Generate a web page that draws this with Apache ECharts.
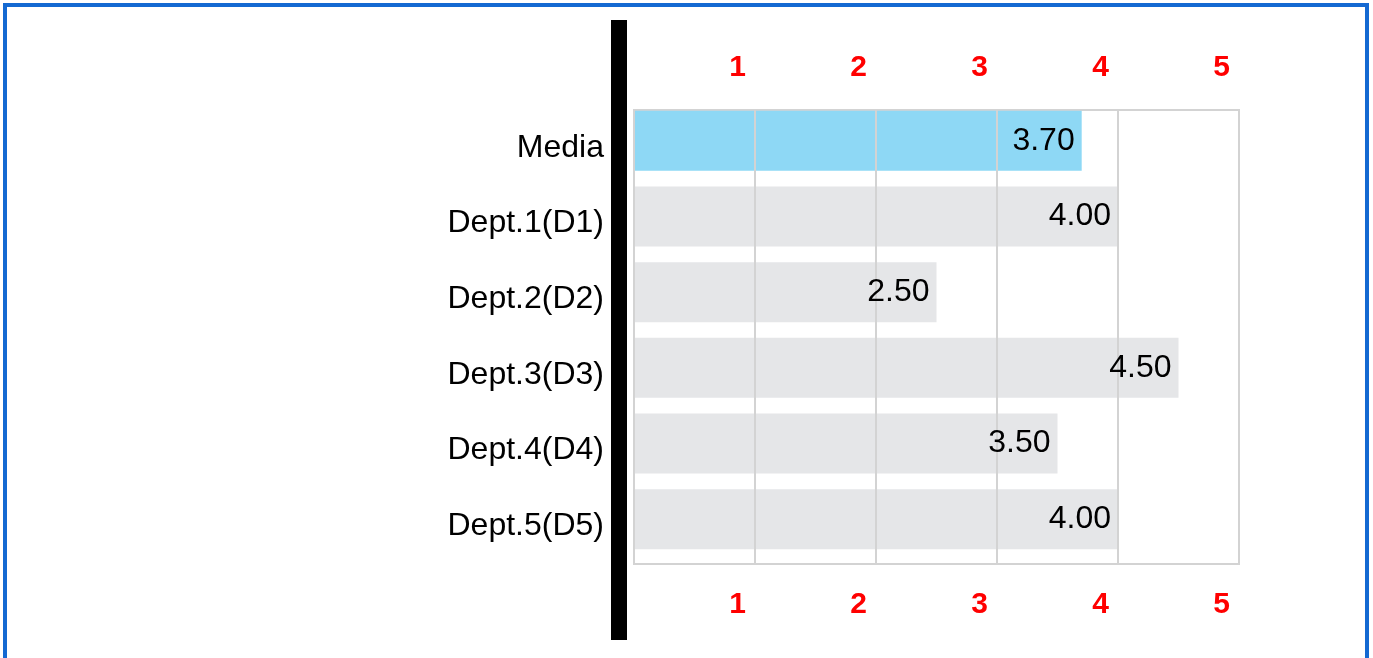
<!DOCTYPE html>
<html>
<head>
<meta charset="utf-8">
<script src="https://cdn.jsdelivr.net/npm/echarts@6/dist/echarts.min.js"></script>
<style>
  html, body { margin: 0; padding: 0; background: #fff; overflow: hidden; }
  #chart { position: absolute; left: 0; top: 0; width: 1373px; height: 658px; }
  #frame { position: absolute; left: 3px; top: 3px; width: 1358px; height: 700px;
           border: 4px solid #1469d2; pointer-events: none; }
</style>
</head>
<body>
<div id="chart"></div>
<div id="frame"></div>
<script>
const categories = ['Media', 'Dept.1(D1)', 'Dept.2(D2)', 'Dept.3(D3)', 'Dept.4(D4)', 'Dept.5(D5)'];
const scores = [3.70, 4.00, 2.50, 4.50, 3.50, 4.00];
const highlighted = 'Media';
const axisMin = 0, axisMax = 5, axisStep = 1;

const chart = echarts.init(document.getElementById('chart'), null, { renderer: 'canvas' });
const font = 'Arial, "Liberation Sans", sans-serif';
const tickLabelStyle = {
  show: true, showMinLabel: false, color: '#ff0000', fontWeight: 'bold',
  fontSize: 30, fontFamily: font, padding: [0, 35, 0, 0]
};
const spacer = () => categories.map(() => 0);

chart.setOption({
  animation: false,
  grid: { left: 634, right: 134, top: 110, bottom: 94, show: true,
          borderColor: '#d3d3d3', borderWidth: 2, backgroundColor: 'transparent' },
  xAxis: [
    { type: 'value', position: 'bottom', min: axisMin, max: axisMax, interval: axisStep, z: 5,
      axisLine: { show: false }, axisTick: { show: false },
      splitLine: { show: true, lineStyle: { color: '#d3d3d3', width: 2 } },
      axisLabel: Object.assign({ margin: 26 }, tickLabelStyle) },
    { type: 'value', position: 'top', min: axisMin, max: axisMax, interval: axisStep, z: 5,
      axisLine: { show: false }, axisTick: { show: false }, splitLine: { show: false },
      axisLabel: Object.assign({ margin: 27 }, tickLabelStyle) }
  ],
  yAxis: [
    { type: 'category', data: categories, inverse: true,
      axisLine: { show: false }, axisTick: { show: false }, splitLine: { show: false },
      axisLabel: { color: '#000', fontSize: 32, fontFamily: font, margin: 30, padding: [6, 0, 0, 0] } },
    { type: 'category', data: categories, inverse: true, show: false }
  ],
  graphic: [
    { type: 'rect', shape: { x: 611, y: 20, width: 16, height: 620 }, style: { fill: '#000' }, silent: true, z: 10 }
  ],
  series: [
    { type: 'bar', xAxisIndex: 0, yAxisIndex: 0, data: scores, barWidth: 60, barGap: '0%', z: 2,
      itemStyle: { color: p => categories[p.dataIndex] === highlighted ? '#8ed8f5' : '#e5e6e8' } },
    { type: 'bar', xAxisIndex: 0, yAxisIndex: 0, data: spacer(), barWidth: 14, barGap: '0%',
      itemStyle: { color: 'transparent' }, silent: true },
    { type: 'bar', xAxisIndex: 0, yAxisIndex: 1, data: scores, barWidth: 60, barGap: '0%', z: 8,
      itemStyle: { color: 'transparent' }, silent: true,
      label: { show: true, position: 'insideRight', distance: 7, color: '#000', padding: [4, 0, 0, 0],
               fontSize: 32, fontFamily: font, formatter: p => p.value.toFixed(2) } },
    { type: 'bar', xAxisIndex: 0, yAxisIndex: 1, data: spacer(), barWidth: 14, barGap: '0%',
      itemStyle: { color: 'transparent' }, silent: true }
  ]
});
</script>
</body>
</html>
